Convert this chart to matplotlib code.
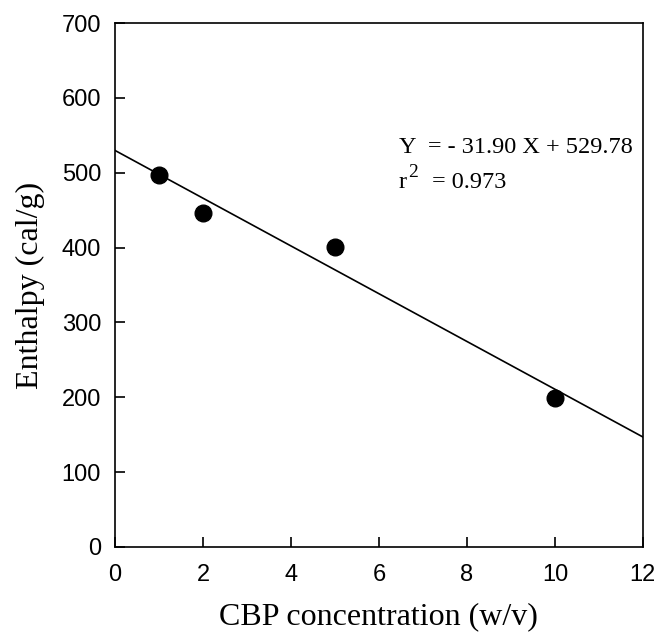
import numpy as np
import matplotlib
matplotlib.use("Agg")
import matplotlib.pyplot as plt

plt.rcParams["mathtext.fontset"] = "custom"
plt.rcParams["mathtext.rm"] = "Liberation Serif"

# data
conc = [1, 2, 5, 10]
enthalpy = [497, 446, 401, 199]
slope = -31.90
intercept = 529.78
r2 = 0.973

xticks = [0, 2, 4, 6, 8, 10, 12]
yticks = [0, 100, 200, 300, 400, 500, 600, 700]

fig = plt.figure(figsize=(6.59, 6.39), dpi=100)
ax = fig.add_axes([0.1745, 0.144, 0.801, 0.820])

xl = np.array([0, 12])
ax.plot(xl, intercept + slope * xl, color="black", linewidth=1.2)
ax.plot(conc, enthalpy, "o", color="black", markersize=12, zorder=3)

ax.set_xlim(0, 12)
ax.set_ylim(0, 700)
ax.set_xticks(xticks)
ax.set_yticks(yticks)
ax.tick_params(direction="in", length=7, width=1.2, labelsize=17,
               top=False, right=False)
ax.tick_params(axis="x", pad=12)
ax.tick_params(axis="y", pad=10)
for lab in ax.get_xticklabels() + ax.get_yticklabels():
    lab.set_family("Liberation Sans")
for sp in ax.spines.values():
    sp.set_linewidth(1.2)

ax.set_xlabel("CBP concentration (w/v)", family="Liberation Serif", fontsize=23, labelpad=12)
ax.set_ylabel("Enthalpy (cal/g)", family="Liberation Serif", fontsize=23, labelpad=12)

# regression equation
ax.text(6.45, 527, "Y  = - %.2f X + %.2f" % (-slope, intercept),
        family="Liberation Serif", fontsize=17.5, va="baseline")
ax.text(6.45, 479, "r", family="Liberation Serif", fontsize=17.5, va="baseline")
ax.annotate("2", (6.45, 479), xytext=(7, 8), textcoords="offset points",
            family="Liberation Serif", fontsize=14, va="baseline")
ax.annotate("= %.3f" % r2, (6.45, 479), xytext=(24, 0), textcoords="offset points",
            family="Liberation Serif", fontsize=17.5, va="baseline")

fig.savefig("out.png", dpi=100)
